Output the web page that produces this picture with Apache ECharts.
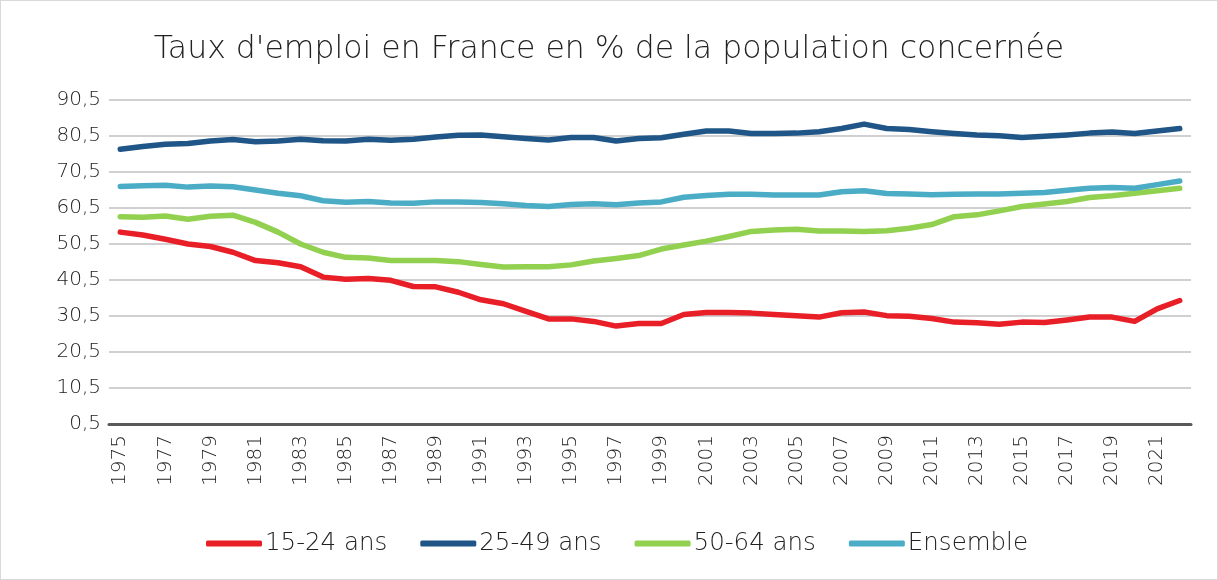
<!DOCTYPE html>
<html>
<head>
<meta charset="utf-8">
<script src="https://cdn.jsdelivr.net/npm/echarts@6/dist/echarts.min.js"></script>
<style>
  html, body { margin: 0; padding: 0; background: #fff; }
  #chart { width: 1216px; height: 578px; border: 1px solid #d9d9d9; }
</style>
</head>
<body>
<div id="chart"></div>
<script>
const years = []
for (let y = 1975; y <= 2022; y++) years.push(String(y))

const jeunes = [53.8, 53.0, 51.8, 50.5, 49.8, 48.2, 45.9, 45.3, 44.2, 41.3,
  40.7, 40.9, 40.4, 38.7, 38.6, 37.1, 35.0, 33.9, 31.8, 29.7,
  29.7, 29.0, 27.7, 28.4, 28.4, 30.9, 31.5, 31.5, 31.3, 30.9,
  30.6, 30.2, 31.4, 31.6, 30.6, 30.4, 29.8, 28.8, 28.6, 28.2,
  28.8, 28.7, 29.4, 30.2, 30.2, 29.0, 32.5, 34.8]

const adultes = [76.8, 77.6, 78.2, 78.4, 79.1, 79.5, 78.9, 79.1, 79.6, 79.2,
  79.1, 79.6, 79.3, 79.6, 80.2, 80.7, 80.8, 80.3, 79.8, 79.4,
  80.1, 80.1, 79.1, 79.8, 80.0, 81.0, 81.9, 81.9, 81.2, 81.2,
  81.3, 81.7, 82.6, 83.8, 82.6, 82.3, 81.7, 81.2, 80.8, 80.6,
  80.1, 80.4, 80.8, 81.3, 81.6, 81.2, 81.9, 82.6]

const seniors = [58.1, 57.9, 58.3, 57.4, 58.2, 58.5, 56.5, 53.8, 50.5, 48.2,
  46.8, 46.6, 45.9, 45.9, 45.9, 45.6, 44.8, 44.1, 44.2, 44.2,
  44.7, 45.8, 46.5, 47.3, 49.1, 50.2, 51.3, 52.6, 54.0, 54.4,
  54.6, 54.1, 54.1, 54.0, 54.2, 54.9, 55.9, 58.1, 58.6, 59.7,
  60.9, 61.6, 62.3, 63.4, 63.9, 64.6, 65.3, 66.0]

const ensemble = [66.5, 66.7, 66.8, 66.3, 66.6, 66.4, 65.5, 64.6, 63.9, 62.5,
  62.1, 62.3, 61.9, 61.8, 62.2, 62.2, 62.0, 61.7, 61.2, 60.9,
  61.5, 61.7, 61.4, 61.9, 62.2, 63.5, 64.0, 64.3, 64.3, 64.1,
  64.1, 64.1, 65.0, 65.3, 64.5, 64.4, 64.2, 64.3, 64.4, 64.4,
  64.6, 64.8, 65.4, 66.0, 66.2, 66.0, 67.0, 68.0]

const font = 'DejaVu Sans'

const mkLine = (name, data, color) => ({
  name: name,
  type: 'line',
  data: data,
  symbol: 'none',
  smooth: false,
  lineStyle: { width: 5.5, color: color, cap: 'round', join: 'round' },
  itemStyle: { color: color }
})

const dom = echarts.init(document.getElementById('chart'))
const option = {
  animation: false,
  textStyle: { fontFamily: font },
  title: {
    text: "Taux d'emploi en France en % de la population concernée",
    left: 'center',
    top: 28,
    textStyle: { fontFamily: font, fontSize: 31.5, fontWeight: 200, color: '#222' }
  },
  legend: {
    bottom: 23,
    left: 205,
    padding: 0,
    icon: 'roundRect',
    itemWidth: 56,
    itemHeight: 6,
    itemGap: 33,
    textStyle: { fontFamily: font, fontSize: 24.5, fontWeight: 200, color: '#222', padding: [0, 0, 0, -2] },
    data: ['15-24 ans', '25-49 ans', '50-64 ans', 'Ensemble']
  },
  grid: { left: 108, right: 26, top: 99, bottom: 155, containLabel: false },
  xAxis: {
    type: 'category',
    data: years,
    boundaryGap: true,
    axisLine: { lineStyle: { color: '#595959', width: 3 } },
    axisTick: { show: false },
    axisLabel: {
      rotate: 90,
      interval: 1,
      margin: 11,
      fontFamily: font,
      fontSize: 20,
      fontWeight: 200,
      color: '#222'
    }
  },
  yAxis: {
    type: 'value',
    min: 0.5,
    max: 90.5,
    interval: 10,
    axisLine: { show: false },
    axisTick: { show: false },
    splitLine: { lineStyle: { color: '#d0d0d0', width: 2 } },
    axisLabel: {
      margin: 8,
      fontFamily: font,
      fontSize: 20,
      fontWeight: 200,
      color: '#222',
      formatter: v => v.toFixed(1).replace('.', ',')
    }
  },
  series: [
    mkLine('15-24 ans', jeunes, '#e81f27'),
    mkLine('25-49 ans', adultes, '#1f5587'),
    mkLine('50-64 ans', seniors, '#92d050'),
    mkLine('Ensemble', ensemble, '#4bacc6')
  ]
}
dom.setOption(option)
</script>
</body>
</html>
